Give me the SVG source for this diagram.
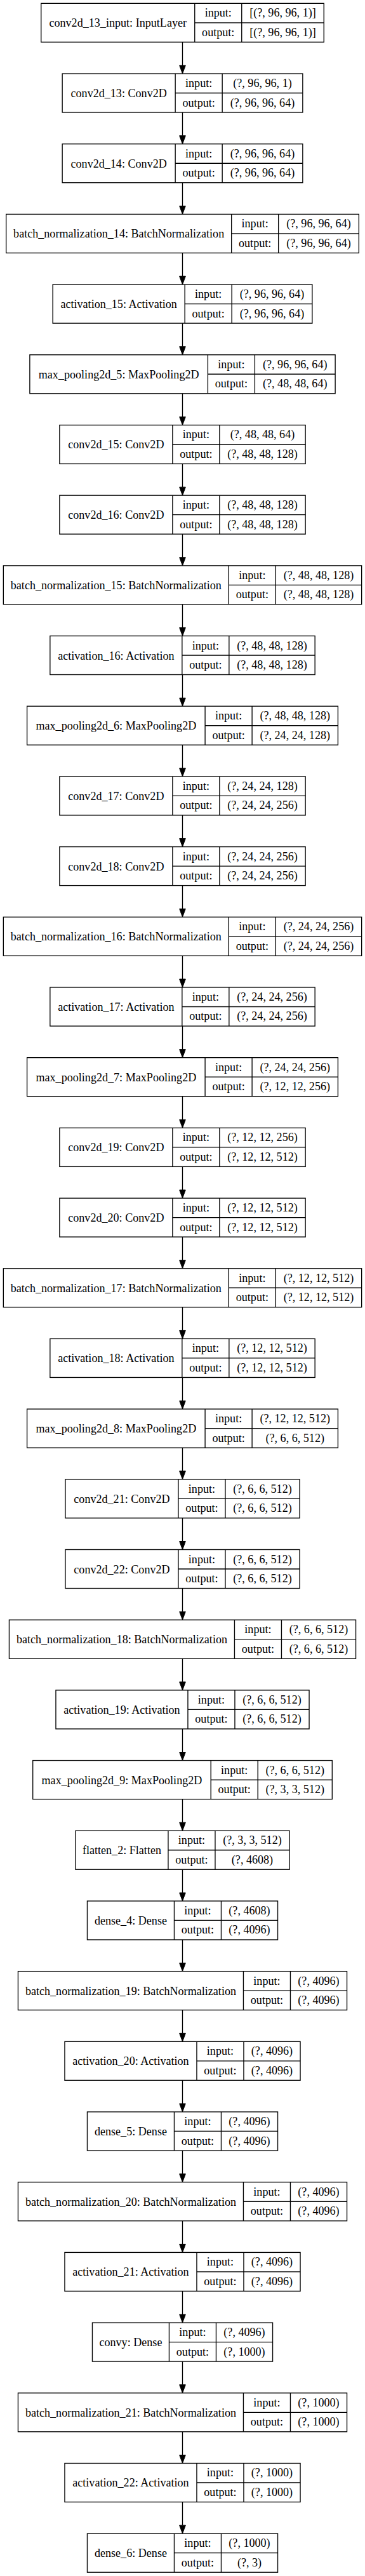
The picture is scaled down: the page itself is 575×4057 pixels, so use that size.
<svg xmlns="http://www.w3.org/2000/svg" width="575" height="4057" viewBox="0 0 575 4057">
<style>
.node rect{fill:#fff;stroke:#000;stroke-width:1.33}
.node path{fill:none;stroke:#000;stroke-width:1.33}
text{font-family:"Liberation Serif","Times New Roman",serif;font-size:18.1px;text-anchor:middle;fill:#000}
#connectors path{fill:none;stroke:#000;stroke-width:1.33;marker-end:url(#arrow)}
</style>
<defs>
<marker id="arrow" markerUnits="userSpaceOnUse" markerWidth="13" markerHeight="9.6" refX="0" refY="4.8" orient="auto" overflow="visible">
<path d="M0,0L13,4.8L0,9.6z" fill="#000" stroke="#000" stroke-width="1"/>
</marker>
</defs>
<rect width="575" height="4057" fill="#fff"/>
<g id="connectors">
<path d="M287.5,66.33V103.02"/>
<path d="M287.5,177.02V213.71"/>
<path d="M287.5,287.71V324.4"/>
<path d="M287.5,398.4V435.09"/>
<path d="M287.5,509.09V545.78"/>
<path d="M287.5,619.78V656.47"/>
<path d="M287.5,730.47V767.16"/>
<path d="M287.5,841.16V877.85"/>
<path d="M287.5,951.85V988.54"/>
<path d="M287.5,1062.54V1099.23"/>
<path d="M287.5,1173.23V1209.92"/>
<path d="M287.5,1283.92V1320.61"/>
<path d="M287.5,1394.61V1431.3"/>
<path d="M287.5,1505.3V1541.99"/>
<path d="M287.5,1615.99V1652.68"/>
<path d="M287.5,1726.68V1763.37"/>
<path d="M287.5,1837.37V1874.06"/>
<path d="M287.5,1948.06V1984.75"/>
<path d="M287.5,2058.75V2095.44"/>
<path d="M287.5,2169.44V2206.13"/>
<path d="M287.5,2280.13V2316.82"/>
<path d="M287.5,2390.82V2427.51"/>
<path d="M287.5,2501.51V2538.2"/>
<path d="M287.5,2612.2V2648.89"/>
<path d="M287.5,2722.89V2759.58"/>
<path d="M287.5,2833.58V2870.27"/>
<path d="M287.5,2944.27V2980.96"/>
<path d="M287.5,3054.96V3091.65"/>
<path d="M287.5,3165.65V3202.34"/>
<path d="M287.5,3276.34V3313.03"/>
<path d="M287.5,3387.03V3423.72"/>
<path d="M287.5,3497.72V3534.41"/>
<path d="M287.5,3608.41V3645.1"/>
<path d="M287.5,3719.1V3755.79"/>
<path d="M287.5,3829.79V3866.48"/>
<path d="M287.5,3940.48V3977.17"/>
</g>

<g id="n0" class="node" transform="translate(64.75,5.33)"><rect width="445.5" height="61"/><path d="M242,0V61M316,0V61M242,30.5H445.5"/><text x="121" y="37">conv2d_13_input: InputLayer</text><text x="279" y="21">input:</text><text x="279" y="51.5">output:</text><text x="380.75" y="21">[(?, 96, 96, 1)]</text><text x="380.75" y="51.5">[(?, 96, 96, 1)]</text></g>

<g id="n1" class="node" transform="translate(98.15,116.02)"><rect width="378.7" height="61"/><path d="M178,0V61M252,0V61M178,30.5H378.7"/><text x="89" y="37">conv2d_13: Conv2D</text><text x="215" y="21">input:</text><text x="215" y="51.5">output:</text><text x="315.35" y="21">(?, 96, 96, 1)</text><text x="315.35" y="51.5">(?, 96, 96, 64)</text></g>

<g id="n2" class="node" transform="translate(98.15,226.71)"><rect width="378.7" height="61"/><path d="M178,0V61M252,0V61M178,30.5H378.7"/><text x="89" y="37">conv2d_14: Conv2D</text><text x="215" y="21">input:</text><text x="215" y="51.5">output:</text><text x="315.35" y="21">(?, 96, 96, 64)</text><text x="315.35" y="51.5">(?, 96, 96, 64)</text></g>

<g id="n3" class="node" transform="translate(9.65,337.4)"><rect width="555.7" height="61"/><path d="M355,0V61M429,0V61M355,30.5H555.7"/><text x="177.5" y="37">batch_normalization_14: BatchNormalization</text><text x="392" y="21">input:</text><text x="392" y="51.5">output:</text><text x="492.35" y="21">(?, 96, 96, 64)</text><text x="492.35" y="51.5">(?, 96, 96, 64)</text></g>

<g id="n4" class="node" transform="translate(83.15,448.09)"><rect width="408.7" height="61"/><path d="M208,0V61M282,0V61M208,30.5H408.7"/><text x="104" y="37">activation_15: Activation</text><text x="245" y="21">input:</text><text x="245" y="51.5">output:</text><text x="345.35" y="21">(?, 96, 96, 64)</text><text x="345.35" y="51.5">(?, 96, 96, 64)</text></g>

<g id="n5" class="node" transform="translate(46.9,558.78)"><rect width="481.2" height="61"/><path d="M280.5,0V61M354.5,0V61M280.5,30.5H481.2"/><text x="140.25" y="37">max_pooling2d_5: MaxPooling2D</text><text x="317.5" y="21">input:</text><text x="317.5" y="51.5">output:</text><text x="417.85" y="21">(?, 96, 96, 64)</text><text x="417.85" y="51.5">(?, 48, 48, 64)</text></g>

<g id="n6" class="node" transform="translate(93.85,669.47)"><rect width="387.3" height="61"/><path d="M178,0V61M252,0V61M178,30.5H387.3"/><text x="89" y="37">conv2d_15: Conv2D</text><text x="215" y="21">input:</text><text x="215" y="51.5">output:</text><text x="319.65" y="21">(?, 48, 48, 64)</text><text x="319.65" y="51.5">(?, 48, 48, 128)</text></g>

<g id="n7" class="node" transform="translate(93.85,780.16)"><rect width="387.3" height="61"/><path d="M178,0V61M252,0V61M178,30.5H387.3"/><text x="89" y="37">conv2d_16: Conv2D</text><text x="215" y="21">input:</text><text x="215" y="51.5">output:</text><text x="319.65" y="21">(?, 48, 48, 128)</text><text x="319.65" y="51.5">(?, 48, 48, 128)</text></g>

<g id="n8" class="node" transform="translate(5.35,890.85)"><rect width="564.3" height="61"/><path d="M355,0V61M429,0V61M355,30.5H564.3"/><text x="177.5" y="37">batch_normalization_15: BatchNormalization</text><text x="392" y="21">input:</text><text x="392" y="51.5">output:</text><text x="496.65" y="21">(?, 48, 48, 128)</text><text x="496.65" y="51.5">(?, 48, 48, 128)</text></g>

<g id="n9" class="node" transform="translate(78.85,1001.54)"><rect width="417.3" height="61"/><path d="M208,0V61M282,0V61M208,30.5H417.3"/><text x="104" y="37">activation_16: Activation</text><text x="245" y="21">input:</text><text x="245" y="51.5">output:</text><text x="349.65" y="21">(?, 48, 48, 128)</text><text x="349.65" y="51.5">(?, 48, 48, 128)</text></g>

<g id="n10" class="node" transform="translate(42.6,1112.23)"><rect width="489.8" height="61"/><path d="M280.5,0V61M354.5,0V61M280.5,30.5H489.8"/><text x="140.25" y="37">max_pooling2d_6: MaxPooling2D</text><text x="317.5" y="21">input:</text><text x="317.5" y="51.5">output:</text><text x="422.15" y="21">(?, 48, 48, 128)</text><text x="422.15" y="51.5">(?, 24, 24, 128)</text></g>

<g id="n11" class="node" transform="translate(93.85,1222.92)"><rect width="387.3" height="61"/><path d="M178,0V61M252,0V61M178,30.5H387.3"/><text x="89" y="37">conv2d_17: Conv2D</text><text x="215" y="21">input:</text><text x="215" y="51.5">output:</text><text x="319.65" y="21">(?, 24, 24, 128)</text><text x="319.65" y="51.5">(?, 24, 24, 256)</text></g>

<g id="n12" class="node" transform="translate(93.85,1333.61)"><rect width="387.3" height="61"/><path d="M178,0V61M252,0V61M178,30.5H387.3"/><text x="89" y="37">conv2d_18: Conv2D</text><text x="215" y="21">input:</text><text x="215" y="51.5">output:</text><text x="319.65" y="21">(?, 24, 24, 256)</text><text x="319.65" y="51.5">(?, 24, 24, 256)</text></g>

<g id="n13" class="node" transform="translate(5.35,1444.3)"><rect width="564.3" height="61"/><path d="M355,0V61M429,0V61M355,30.5H564.3"/><text x="177.5" y="37">batch_normalization_16: BatchNormalization</text><text x="392" y="21">input:</text><text x="392" y="51.5">output:</text><text x="496.65" y="21">(?, 24, 24, 256)</text><text x="496.65" y="51.5">(?, 24, 24, 256)</text></g>

<g id="n14" class="node" transform="translate(78.85,1554.99)"><rect width="417.3" height="61"/><path d="M208,0V61M282,0V61M208,30.5H417.3"/><text x="104" y="37">activation_17: Activation</text><text x="245" y="21">input:</text><text x="245" y="51.5">output:</text><text x="349.65" y="21">(?, 24, 24, 256)</text><text x="349.65" y="51.5">(?, 24, 24, 256)</text></g>

<g id="n15" class="node" transform="translate(42.6,1665.68)"><rect width="489.8" height="61"/><path d="M280.5,0V61M354.5,0V61M280.5,30.5H489.8"/><text x="140.25" y="37">max_pooling2d_7: MaxPooling2D</text><text x="317.5" y="21">input:</text><text x="317.5" y="51.5">output:</text><text x="422.15" y="21">(?, 24, 24, 256)</text><text x="422.15" y="51.5">(?, 12, 12, 256)</text></g>

<g id="n16" class="node" transform="translate(93.85,1776.37)"><rect width="387.3" height="61"/><path d="M178,0V61M252,0V61M178,30.5H387.3"/><text x="89" y="37">conv2d_19: Conv2D</text><text x="215" y="21">input:</text><text x="215" y="51.5">output:</text><text x="319.65" y="21">(?, 12, 12, 256)</text><text x="319.65" y="51.5">(?, 12, 12, 512)</text></g>

<g id="n17" class="node" transform="translate(93.85,1887.06)"><rect width="387.3" height="61"/><path d="M178,0V61M252,0V61M178,30.5H387.3"/><text x="89" y="37">conv2d_20: Conv2D</text><text x="215" y="21">input:</text><text x="215" y="51.5">output:</text><text x="319.65" y="21">(?, 12, 12, 512)</text><text x="319.65" y="51.5">(?, 12, 12, 512)</text></g>

<g id="n18" class="node" transform="translate(5.35,1997.75)"><rect width="564.3" height="61"/><path d="M355,0V61M429,0V61M355,30.5H564.3"/><text x="177.5" y="37">batch_normalization_17: BatchNormalization</text><text x="392" y="21">input:</text><text x="392" y="51.5">output:</text><text x="496.65" y="21">(?, 12, 12, 512)</text><text x="496.65" y="51.5">(?, 12, 12, 512)</text></g>

<g id="n19" class="node" transform="translate(78.85,2108.44)"><rect width="417.3" height="61"/><path d="M208,0V61M282,0V61M208,30.5H417.3"/><text x="104" y="37">activation_18: Activation</text><text x="245" y="21">input:</text><text x="245" y="51.5">output:</text><text x="349.65" y="21">(?, 12, 12, 512)</text><text x="349.65" y="51.5">(?, 12, 12, 512)</text></g>

<g id="n20" class="node" transform="translate(42.6,2219.13)"><rect width="489.8" height="61"/><path d="M280.5,0V61M354.5,0V61M280.5,30.5H489.8"/><text x="140.25" y="37">max_pooling2d_8: MaxPooling2D</text><text x="317.5" y="21">input:</text><text x="317.5" y="51.5">output:</text><text x="422.15" y="21">(?, 12, 12, 512)</text><text x="422.15" y="51.5">(?, 6, 6, 512)</text></g>

<g id="n21" class="node" transform="translate(102.95,2329.82)"><rect width="369.1" height="61"/><path d="M178,0V61M252,0V61M178,30.5H369.1"/><text x="89" y="37">conv2d_21: Conv2D</text><text x="215" y="21">input:</text><text x="215" y="51.5">output:</text><text x="310.55" y="21">(?, 6, 6, 512)</text><text x="310.55" y="51.5">(?, 6, 6, 512)</text></g>

<g id="n22" class="node" transform="translate(102.95,2440.51)"><rect width="369.1" height="61"/><path d="M178,0V61M252,0V61M178,30.5H369.1"/><text x="89" y="37">conv2d_22: Conv2D</text><text x="215" y="21">input:</text><text x="215" y="51.5">output:</text><text x="310.55" y="21">(?, 6, 6, 512)</text><text x="310.55" y="51.5">(?, 6, 6, 512)</text></g>

<g id="n23" class="node" transform="translate(14.45,2551.2)"><rect width="546.1" height="61"/><path d="M355,0V61M429,0V61M355,30.5H546.1"/><text x="177.5" y="37">batch_normalization_18: BatchNormalization</text><text x="392" y="21">input:</text><text x="392" y="51.5">output:</text><text x="487.55" y="21">(?, 6, 6, 512)</text><text x="487.55" y="51.5">(?, 6, 6, 512)</text></g>

<g id="n24" class="node" transform="translate(87.95,2661.89)"><rect width="399.1" height="61"/><path d="M208,0V61M282,0V61M208,30.5H399.1"/><text x="104" y="37">activation_19: Activation</text><text x="245" y="21">input:</text><text x="245" y="51.5">output:</text><text x="340.55" y="21">(?, 6, 6, 512)</text><text x="340.55" y="51.5">(?, 6, 6, 512)</text></g>

<g id="n25" class="node" transform="translate(51.7,2772.58)"><rect width="471.6" height="61"/><path d="M280.5,0V61M354.5,0V61M280.5,30.5H471.6"/><text x="140.25" y="37">max_pooling2d_9: MaxPooling2D</text><text x="317.5" y="21">input:</text><text x="317.5" y="51.5">output:</text><text x="413.05" y="21">(?, 6, 6, 512)</text><text x="413.05" y="51.5">(?, 3, 3, 512)</text></g>

<g id="n26" class="node" transform="translate(118.95,2883.27)"><rect width="337.1" height="61"/><path d="M146,0V61M220,0V61M146,30.5H337.1"/><text x="73" y="37">flatten_2: Flatten</text><text x="183" y="21">input:</text><text x="183" y="51.5">output:</text><text x="278.55" y="21">(?, 3, 3, 512)</text><text x="278.55" y="51.5">(?, 4608)</text></g>

<g id="n27" class="node" transform="translate(137.45,2993.96)"><rect width="300.1" height="61"/><path d="M137,0V61M211,0V61M137,30.5H300.1"/><text x="68.5" y="37">dense_4: Dense</text><text x="174" y="21">input:</text><text x="174" y="51.5">output:</text><text x="255.55" y="21">(?, 4608)</text><text x="255.55" y="51.5">(?, 4096)</text></g>

<g id="n28" class="node" transform="translate(28.45,3104.65)"><rect width="518.1" height="61"/><path d="M355,0V61M429,0V61M355,30.5H518.1"/><text x="177.5" y="37">batch_normalization_19: BatchNormalization</text><text x="392" y="21">input:</text><text x="392" y="51.5">output:</text><text x="473.55" y="21">(?, 4096)</text><text x="473.55" y="51.5">(?, 4096)</text></g>

<g id="n29" class="node" transform="translate(101.95,3215.34)"><rect width="371.1" height="61"/><path d="M208,0V61M282,0V61M208,30.5H371.1"/><text x="104" y="37">activation_20: Activation</text><text x="245" y="21">input:</text><text x="245" y="51.5">output:</text><text x="326.55" y="21">(?, 4096)</text><text x="326.55" y="51.5">(?, 4096)</text></g>

<g id="n30" class="node" transform="translate(137.45,3326.03)"><rect width="300.1" height="61"/><path d="M137,0V61M211,0V61M137,30.5H300.1"/><text x="68.5" y="37">dense_5: Dense</text><text x="174" y="21">input:</text><text x="174" y="51.5">output:</text><text x="255.55" y="21">(?, 4096)</text><text x="255.55" y="51.5">(?, 4096)</text></g>

<g id="n31" class="node" transform="translate(28.45,3436.72)"><rect width="518.1" height="61"/><path d="M355,0V61M429,0V61M355,30.5H518.1"/><text x="177.5" y="37">batch_normalization_20: BatchNormalization</text><text x="392" y="21">input:</text><text x="392" y="51.5">output:</text><text x="473.55" y="21">(?, 4096)</text><text x="473.55" y="51.5">(?, 4096)</text></g>

<g id="n32" class="node" transform="translate(101.95,3547.41)"><rect width="371.1" height="61"/><path d="M208,0V61M282,0V61M208,30.5H371.1"/><text x="104" y="37">activation_21: Activation</text><text x="245" y="21">input:</text><text x="245" y="51.5">output:</text><text x="326.55" y="21">(?, 4096)</text><text x="326.55" y="51.5">(?, 4096)</text></g>

<g id="n33" class="node" transform="translate(145.45,3658.1)"><rect width="284.1" height="61"/><path d="M121,0V61M195,0V61M121,30.5H284.1"/><text x="60.5" y="37">convy: Dense</text><text x="158" y="21">input:</text><text x="158" y="51.5">output:</text><text x="239.55" y="21">(?, 4096)</text><text x="239.55" y="51.5">(?, 1000)</text></g>

<g id="n34" class="node" transform="translate(28.45,3768.79)"><rect width="518.1" height="61"/><path d="M355,0V61M429,0V61M355,30.5H518.1"/><text x="177.5" y="37">batch_normalization_21: BatchNormalization</text><text x="392" y="21">input:</text><text x="392" y="51.5">output:</text><text x="473.55" y="21">(?, 1000)</text><text x="473.55" y="51.5">(?, 1000)</text></g>

<g id="n35" class="node" transform="translate(101.95,3879.48)"><rect width="371.1" height="61"/><path d="M208,0V61M282,0V61M208,30.5H371.1"/><text x="104" y="37">activation_22: Activation</text><text x="245" y="21">input:</text><text x="245" y="51.5">output:</text><text x="326.55" y="21">(?, 1000)</text><text x="326.55" y="51.5">(?, 1000)</text></g>

<g id="n36" class="node" transform="translate(137.45,3990.17)"><rect width="300.1" height="61"/><path d="M137,0V61M211,0V61M137,30.5H300.1"/><text x="68.5" y="37">dense_6: Dense</text><text x="174" y="21">input:</text><text x="174" y="51.5">output:</text><text x="255.55" y="21">(?, 1000)</text><text x="255.55" y="51.5">(?, 3)</text></g>
</svg>
